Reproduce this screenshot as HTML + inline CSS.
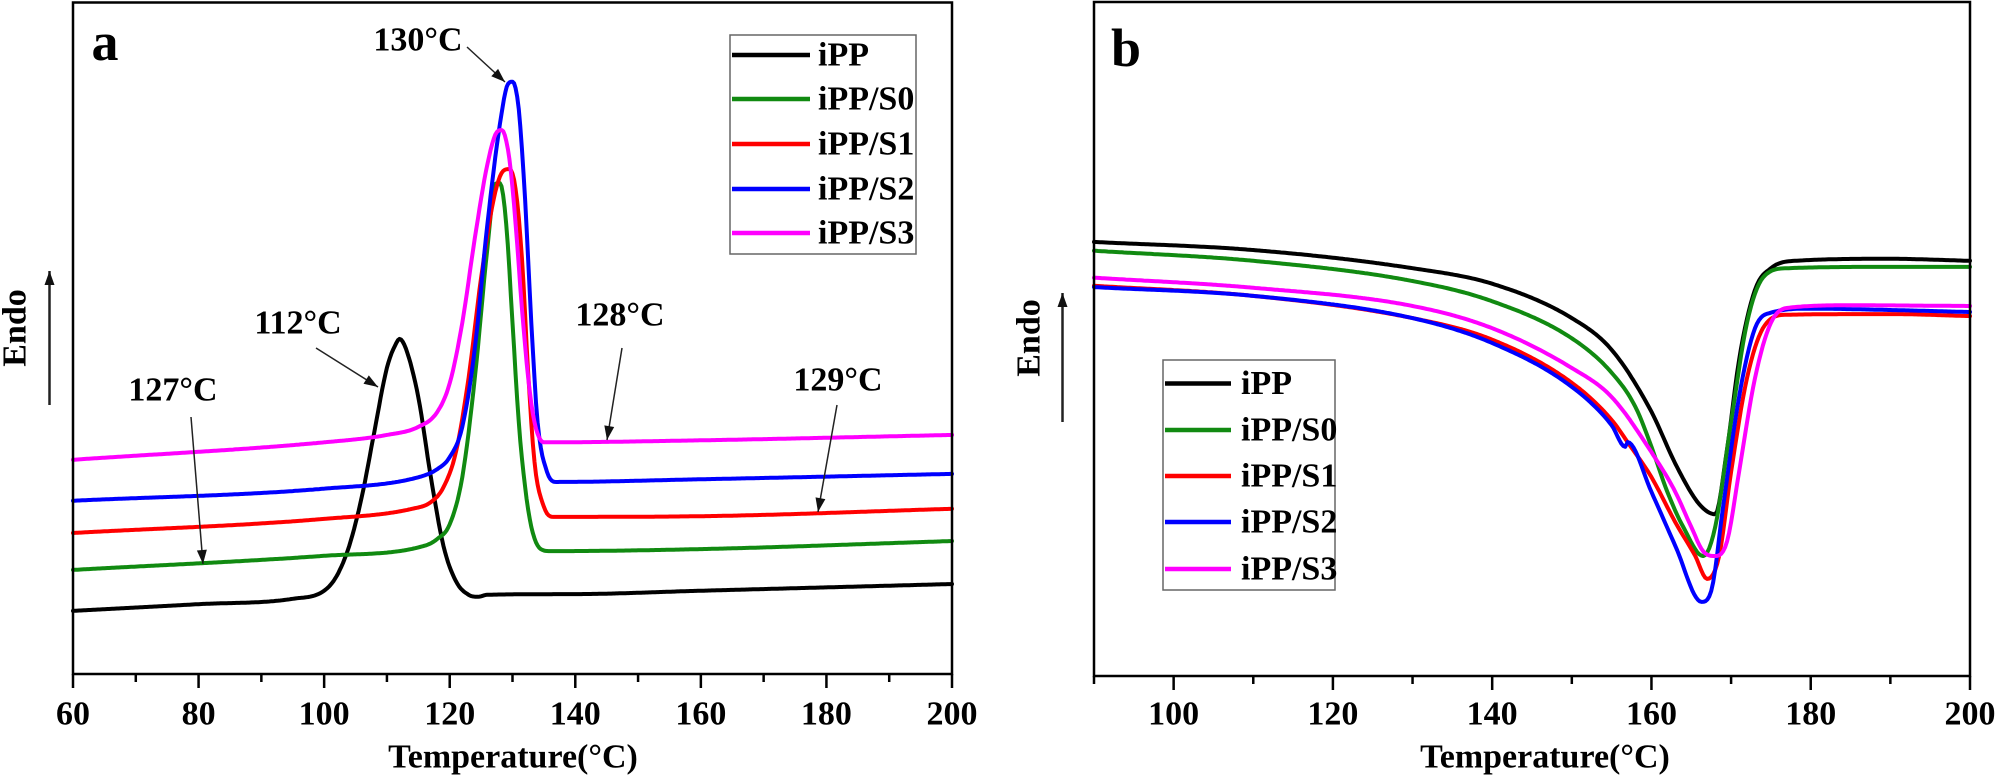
<!DOCTYPE html>
<html><head><meta charset="utf-8"><style>
html,body{margin:0;padding:0;background:#fff;}
svg{display:block;font-family:"Liberation Serif",serif;font-weight:bold;}
</style></head><body>
<svg id="fig" width="2000" height="779" viewBox="0 0 2000 779" xmlns="http://www.w3.org/2000/svg"></svg>
<script>
// ---------- Panel a data (crystallization, cooling) ----------
const aTicks = [60, 80, 100, 120, 140, 160, 180, 200];
const aNames = ["iPP", "iPP/S0", "iPP/S1", "iPP/S2", "iPP/S3"];
const aIPP_T  = [60,80,95,100,102,104,106,108,110,111.5,112,113,115,117,119,121,123,124.5,126,140,160,200];
const aIPP_V  = [9.4,10.4,11.2,12.4,14.6,19.1,26.4,36.1,45.6,49.3,49.9,48.5,41.2,29.3,19.1,13.8,11.8,11.5,11.8,11.9,12.4,13.4];
const aS0_T   = [60,100,116,118,120,122,124,126,127.3,128,129,130,131,132,133,134.5,136,160,200];
const aS0_V   = [15.5,17.6,19.1,20.1,22.3,29.3,44.1,63.4,73.0,73.1,67.0,52.3,37.5,27.9,21.9,18.6,18.3,18.6,19.8];
const aS1_T   = [60,100,114,117,119,121,123,125,127,128.5,129.5,130.5,131.5,132.5,133.5,135,136.5,160,200];
const aS1_V   = [21.0,23.1,24.6,25.6,27.8,33.1,44.1,59.0,70.7,74.9,75.2,72.2,62.0,44.8,31.6,24.9,23.4,23.5,24.6];
const aS2_T   = [60,100,115,118,120,122,124,126,128,129.3,130,131,132,133,134,135.5,137,160,200];
const aS2_V   = [25.8,27.6,29.3,30.5,32.3,36.8,48.5,67.0,81.9,87.9,88.2,84.1,70.7,52.3,37.5,30.1,28.6,29.0,29.8];
const aS3_T   = [60,100,110,115,118,120,122,124,126,127.5,128.3,129.5,130.5,131.5,132.5,133.5,135,160,200];
const aS3_V   = [31.9,34.5,35.6,36.8,39.0,43.3,52.3,64.9,75.9,80.7,81.0,76.7,67.0,54.5,44.1,37.5,34.5,34.8,35.6];
// ---------- Panel b data (melting, heating) ----------
const bTicks = [100, 120, 140, 160, 180, 200];
const bIPP_T = [90,110,130,140,150,155,160,163,166,168,169.5,171,173,175,178,190,200];
const bIPP_V = [64.4,63.2,60.5,58.2,53.1,48.4,39.2,31.5,25.5,24.0,33.7,46.9,57.3,60.5,61.6,61.9,61.6];
const bS0_T  = [90,110,130,140,150,155,158,160,162,164,166.5,168,170,172,174,177,190,200];
const bS0_V  = [63.1,61.6,58.6,55.6,50.1,45.0,39.9,34.0,27.3,22.1,17.8,22.1,37.7,52.4,59.1,60.5,60.7,60.7];
const bS1_T  = [90,110,130,140,150,155,157,160,163,165.5,167,168.5,170,172,174,177,190,200];
const bS1_V  = [57.9,56.4,53.1,49.9,43.5,38.0,34.7,29.5,22.8,17.8,14.4,17.8,30.3,44.2,51.6,53.6,53.7,53.4];
const bS2_T  = [90,110,130,140,150,155,156.7,157,160,163,166.3,167.5,169,171,173,175,180,190,200];
const bS2_V  = [57.7,56.4,53.1,49.4,42.9,37.2,34.0,34.7,27.3,19.3,11.0,12.6,25.1,41.4,51.6,53.9,54.5,54.3,54.0];
const bS3_T  = [90,110,130,140,150,155,160,163,165,166.5,168,169.5,171,173,175,177,185,200];
const bS3_V  = [59.1,57.6,54.9,51.6,45.7,41.4,33.2,27.3,22.1,18.5,17.8,20.0,30.3,44.2,52.4,54.6,55.0,54.9];

const colors = ["#000000", "#118a11", "#ff0000", "#0000ff", "#ff00ff"];
const NS = "http://www.w3.org/2000/svg";
const svg = document.getElementById("fig");
function mk(tag, attrs, parent) {
  const e = document.createElementNS(NS, tag);
  for (const k in attrs) e.setAttribute(k, attrs[k]);
  (parent || svg).appendChild(e);
  return e;
}
function txt(s, x, y, size, name, parent, extra) {
  const t = mk("text", Object.assign({x: x, y: y, "font-size": size, "text-anchor": "middle", "dominant-baseline": "central", fill: "#000"}, extra || {}), parent);
  t.textContent = s;
  
  
  return t;
}
// monotone cubic (Fritsch-Carlson) interpolation sampled into a polyline
function monoPath(T, V, sx, sy) {
  const n = T.length, d = [], m = [];
  for (let i = 0; i < n - 1; i++) d.push((V[i + 1] - V[i]) / (T[i + 1] - T[i]));
  m[0] = d[0]; m[n - 1] = d[n - 2];
  for (let i = 1; i < n - 1; i++) m[i] = (d[i - 1] * d[i] <= 0) ? 0 : (d[i - 1] + d[i]) / 2;
  for (let i = 0; i < n - 1; i++) {
    if (d[i] === 0) { m[i] = 0; m[i + 1] = 0; continue; }
    const a = m[i] / d[i], b = m[i + 1] / d[i], s = a * a + b * b;
    if (s > 9) { const t = 3 / Math.sqrt(s); m[i] = t * a * d[i]; m[i + 1] = t * b * d[i]; }
  }
  let out = "M" + sx(T[0]).toFixed(1) + "," + sy(V[0]).toFixed(1);
  for (let i = 0; i < n - 1; i++) {
    const h = T[i + 1] - T[i], steps = Math.max(2, Math.ceil(h * 4));
    for (let k = 1; k <= steps; k++) {
      const t = k / steps, t2 = t * t, t3 = t2 * t;
      const v = (2 * t3 - 3 * t2 + 1) * V[i] + (t3 - 2 * t2 + t) * h * m[i] + (-2 * t3 + 3 * t2) * V[i + 1] + (t3 - t2) * h * m[i + 1];
      out += "L" + sx(T[i] + t * h).toFixed(1) + "," + sy(v).toFixed(1);
    }
  }
  return out;
}
function arrowLine(x1, y1, x2, y2, name, g, w) {
  const l = mk("line", {x1: x1, y1: y1, x2: x2, y2: y2, stroke: "#222", "stroke-width": w || 1.5}, g);
  
  
  const ang = Math.atan2(y2 - y1, x2 - x1), L = 14, W = 5;
  const bx = x2 - L * Math.cos(ang), by = y2 - L * Math.sin(ang);
  const px = -Math.sin(ang) * W, py = Math.cos(ang) * W;
  const h = mk("polygon", {points: x2 + "," + y2 + " " + (bx + px) + "," + (by + py) + " " + (bx - px) + "," + (by - py), fill: "#111"}, g);
  
  
}

function panel(cfg) {
  const g = mk("g", {});
  
  
  const sx = v => cfg.x0 + (v - cfg.xmin) / (cfg.xmax - cfg.xmin) * (cfg.x1 - cfg.x0);
  const sy = v => cfg.yb + (v - 0) / 100 * (cfg.yt - cfg.yb);
  cfg.series.forEach((s, i) => {
    const p = mk("path", {d: monoPath(s.T, s.V, sx, sy), fill: "none", stroke: colors[i], "stroke-width": 4, "stroke-linejoin": "round", "stroke-linecap": "round"}, g);
    
    
  });
  const fr = mk("rect", {x: cfg.x0, y: cfg.yt, width: cfg.x1 - cfg.x0, height: cfg.yb - cfg.yt, fill: "none", stroke: "#000", "stroke-width": 2.5}, g);
  
  
  for (let v = cfg.xmin; v <= cfg.xmax + 0.01; v += 10) {
    const major = cfg.ticks.indexOf(v) >= 0;
    const tk = mk("line", {x1: sx(v), y1: cfg.yb, x2: sx(v), y2: cfg.yb + (major ? 14 : 8), stroke: "#000", "stroke-width": 2.5}, g);
    
    
  }
  cfg.ticks.forEach(v => txt(String(v), sx(v), 714, 34, 'x-tick-label', g));
  txt("Temperature(\u00B0C)", cfg.titleX, 757, 34, 'x-axis-title', g);
  txt("Endo", cfg.endoX, cfg.endoY, 34, 'y-axis-title', g, {transform: "rotate(-90 " + cfg.endoX + " " + cfg.endoY + ")"});
  arrowLine(cfg.arrX, cfg.arrY1, cfg.arrX, cfg.arrY0, 'endo-arrow', g, 2.5);
  txt(cfg.letter, cfg.letterX, cfg.letterY, 54, 'panel-label', g);
  const lg = mk("g", {}, g);
  
  
  const lb = mk("rect", {x: cfg.lx0, y: cfg.ly0, width: cfg.lx1 - cfg.lx0, height: cfg.ly1 - cfg.ly0, fill: "#fff", stroke: "#666", "stroke-width": 1.5}, lg);
  
  
  aNames.forEach((n, i) => {
    const y = cfg.rows[i];
    const ln = mk("line", {x1: cfg.lsx0, y1: y, x2: cfg.lsx1, y2: y, stroke: colors[i], "stroke-width": 4.5}, lg);
    
    
    txt(n, cfg.ltx, y, 34, 'legend-entry', lg, {"text-anchor": "start"});
  });
  return {g: g, sx: sx, sy: sy};
}

const A = panel({name: "panel-a", letter: "a", letterX: 105, letterY: 42, x0: 73, x1: 952, xmin: 60, xmax: 200, yt: 2.5, yb: 674,
  ticks: aTicks, titleX: 513, endoX: 15, endoY: 328, arrX: 49.5, arrY0: 271, arrY1: 405,
  lx0: 730, lx1: 916, ly0: 35, ly1: 254, lsx0: 732, lsx1: 810, ltx: 818, rows: [55, 99, 144, 189, 233],
  series: [{T: aIPP_T, V: aIPP_V}, {T: aS0_T, V: aS0_V}, {T: aS1_T, V: aS1_V}, {T: aS2_T, V: aS2_V}, {T: aS3_T, V: aS3_V}]});
[["130\u00B0C", 418, 40, 467, 47, 505, 82],
 ["112\u00B0C", 298, 323, 316, 348, 378, 387],
 ["127\u00B0C", 173, 390, 191, 417, 203, 564],
 ["128\u00B0C", 620, 315, 622, 348, 607, 440],
 ["129\u00B0C", 838, 380, 837, 405, 818, 512]].forEach(a => {
  txt(a[0], a[1], a[2], 34, 'peak-annotation', A.g);
  arrowLine(a[3], a[4], a[5], a[6], 'annotation-arrow', A.g);
});

panel({name: "panel-b", letter: "b", letterX: 1126, letterY: 48, x0: 1094, x1: 1970, xmin: 90, xmax: 200, yt: 2, yb: 676,
  ticks: bTicks, titleX: 1545, endoX: 1029, endoY: 338, arrX: 1062.5, arrY0: 293, arrY1: 422,
  lx0: 1163, lx1: 1335, ly0: 360, ly1: 590, lsx0: 1165, lsx1: 1231, ltx: 1241, rows: [383.5, 430, 476, 522, 569],
  series: [{T: bIPP_T, V: bIPP_V}, {T: bS0_T, V: bS0_V}, {T: bS1_T, V: bS1_V}, {T: bS2_T, V: bS2_V}, {T: bS3_T, V: bS3_V}]});
</script>
</body></html>
